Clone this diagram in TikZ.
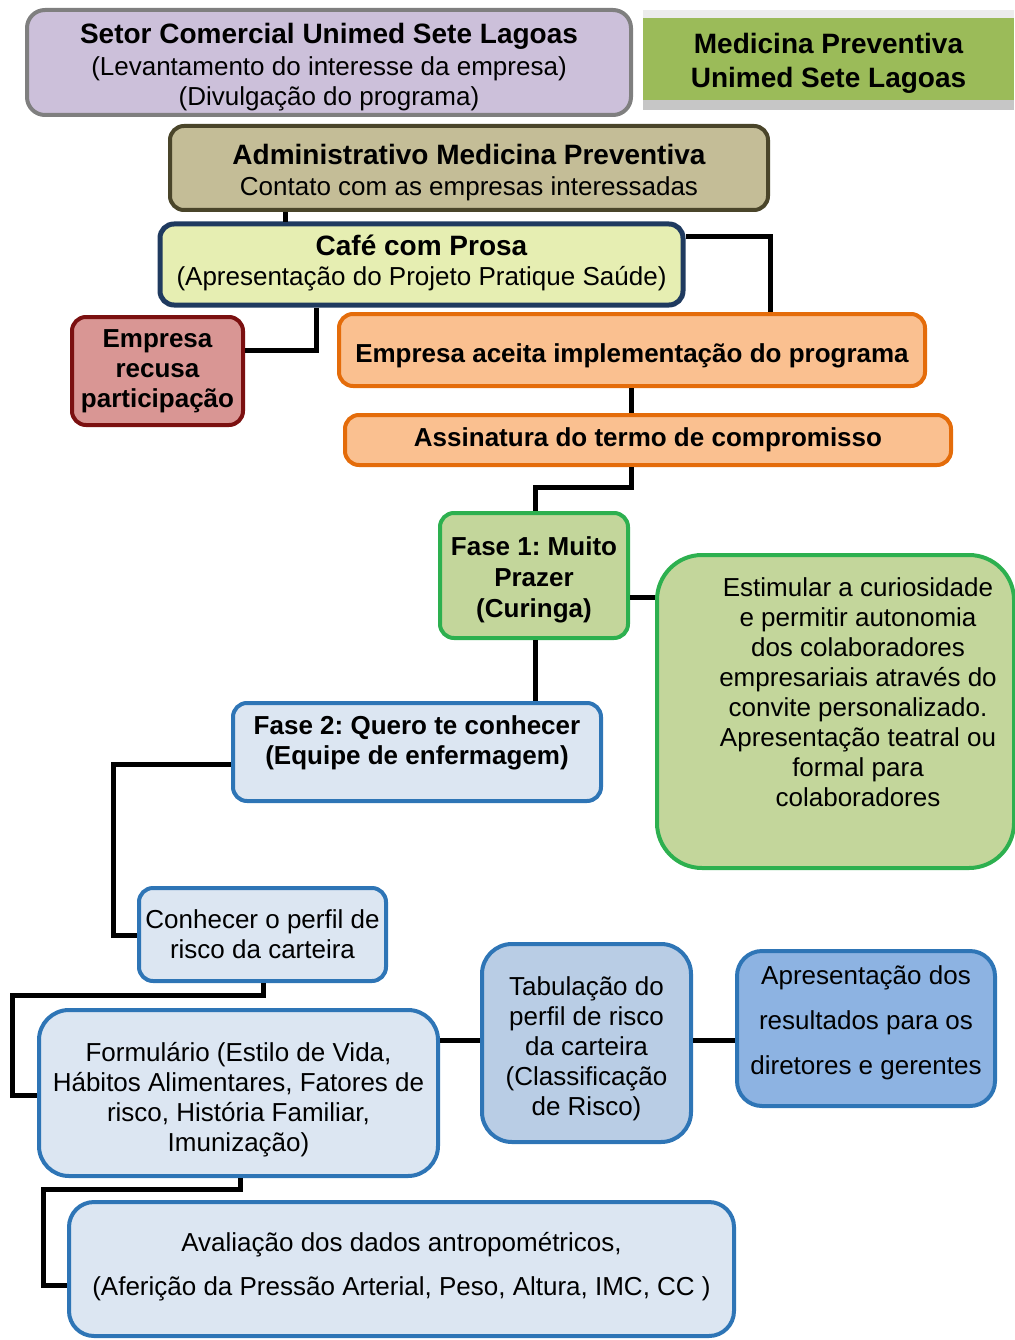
\documentclass[tikz,border=0pt]{standalone}
\usepackage{fontspec}
\setmainfont{Liberation Sans}
\definecolor{lav}{HTML}{CCC0DA}
\definecolor{lavb}{HTML}{7F7F7F}
\definecolor{hdr}{HTML}{9BBB59}
\definecolor{tan}{HTML}{C4BD97}
\definecolor{tanb}{HTML}{4A452A}
\definecolor{cafe}{HTML}{E6EEB2}
\definecolor{cafeb}{HTML}{1F3A5F}
\definecolor{red1}{HTML}{D99694}
\definecolor{red1b}{HTML}{7B1010}
\definecolor{ora}{HTML}{FAC090}
\definecolor{orab}{HTML}{E46C0A}
\definecolor{grn}{HTML}{C3D69B}
\definecolor{grnb}{HTML}{2DB04F}
\definecolor{blu1}{HTML}{DCE6F2}
\definecolor{blu2}{HTML}{B9CDE5}
\definecolor{blu3}{HTML}{8DB3E2}
\definecolor{blub}{HTML}{2E75B6}
\newcommand{\ttl}[1]{{\fontsize{28}{32}\selectfont\bfseries #1}}
\begin{document}
\frenchspacing
\begin{tikzpicture}[x=1pt,y=-1pt,
  box/.style={draw, line width=4pt, rounded corners=14pt, align=center, inner sep=0pt,
    font=\fontsize{26}{30}\selectfont},
  conn/.style={draw=black, line width=5pt},
  txt/.style={align=center, inner sep=0pt, font=\fontsize{26}{30}\selectfont}]
\useasboundingbox (0,0) rectangle (1014,1340);
% header
\fill[gray!15] (643,10) rectangle (1014,18);
\fill[gray!45] (643,100) rectangle (1014,110);
\node[fill=hdr, minimum width=371pt, minimum height=82pt, inner sep=0pt, align=center,
  font=\fontsize{28}{34}\selectfont\bfseries] (hdr) at (828.5,59) {Medicina Preventiva\\Unimed Sete Lagoas\\[-37pt]};
% boxes
\node[box, fill=lav, draw=lavb, rounded corners=18pt, minimum width=604pt, minimum height=105pt] (setor) at (329,62.5)
  {\ttl{Setor Comercial Unimed Sete Lagoas}\\[2pt](Levantamento do interesse da empresa)\\(Divulgação do programa)\\[-33pt]};
\node[box, fill=tan, draw=tanb, minimum width=598pt, minimum height=84pt] (admin) at (469,168)
  {\ttl{Administrativo Medicina Preventiva}\\[1pt]Contato com as empresas interessadas\\[-34pt]};
\node[box, fill=cafe, draw=cafeb, line width=5pt, minimum width=523pt, minimum height=81pt] (cafe) at (421.5,264.5)
  {\ttl{Café com Prosa}\\(Apresentação do Projeto Pratique Saúde)\\[-22pt]};
\node[box, fill=red1, draw=red1b, minimum width=171pt, minimum height=108pt] (recusa) at (157.5,371)
  {\bfseries Empresa\\\bfseries recusa\\\bfseries participação};
\node[box, fill=ora, draw=orab, minimum width=586pt, minimum height=72pt] (aceita) at (632,350)
  {\bfseries Empresa aceita implementação do programa\\[-36pt]};
\node[box, fill=ora, draw=orab, minimum width=606pt, minimum height=50pt] (assin) at (648,440)
  {\bfseries Assinatura do termo de compromisso};
\node[box, fill=grn, draw=grnb, minimum width=188pt, minimum height=125pt,
  font=\fontsize{26}{31}\selectfont] (fase1) at (534,575.5)
  {\bfseries Fase 1: Muito\\\bfseries Prazer\\\bfseries (Curinga)\\[-34pt]};
\node[box, fill=grn, draw=grnb, rounded corners=45pt, minimum width=357pt, minimum height=313pt] (estim) at (835.5,711.5) {};
\node[txt] (estimtxt) at (858,692)
  {Estimular a curiosidade\\e permitir autonomia\\dos colaboradores\\empresariais através do\\convite personalizado.\\Apresentação teatral ou\\formal para\\colaboradores};
\node[box, fill=blu1, draw=blub, minimum width=368pt, minimum height=98pt] (fase2) at (417,752)
  {\bfseries Fase 2: Quero te conhecer\\\bfseries (Equipe de enfermagem)\\[-6pt]};
\node[box, fill=blu1, draw=blub, minimum width=247pt, minimum height=93pt] (conhecer) at (262.5,934.5)
  {Conhecer o perfil de\\risco da carteira};
\node[box, fill=blu1, draw=blub, rounded corners=30pt, minimum width=399pt, minimum height=166pt] (form) at (238.5,1093)
  {Formulário (Estilo de Vida,\\Hábitos Alimentares, Fatores de\\risco, História Familiar,\\Imunização)\\[-37pt]};
\node[box, fill=blu2, draw=blub, rounded corners=30pt, minimum width=209pt, minimum height=198pt] (tab) at (586.5,1043)
  {Tabulação do\\perfil de risco\\da carteira\\(Classificação\\de Risco)\\[-37pt]};
\node[box, fill=blu3, draw=blub, rounded corners=25pt, minimum width=258pt, minimum height=155pt,
  font=\fontsize{26}{45}\selectfont] (apres) at (866,1028.5)
  {Apresentação dos\\resultados para os\\diretores e gerentes\\[-28pt]};
\node[box, fill=blu1, draw=blub, rounded corners=25pt, minimum width=665pt, minimum height=134pt,
  font=\fontsize{26}{44}\selectfont] (aval) at (401.5,1269)
  {Avaliação dos dados antropométricos,\\(Aferição da Pressão Arterial, Peso, Altura, IMC, CC )\\[-34pt]};
% connectors
\coordinate (c1) at (770,237);
\draw[conn] (285,212) -- (285,222);
\draw[conn] (cafe.east |- c1) -- (c1) -- (c1 |- aceita.north);
\coordinate (c2) at (316,350);
\draw[conn] (c2 |- cafe.south) -- (c2) -- (recusa.east |- c2);
\draw[conn] (aceita.south -| 631,0) -- (assin.north -| 631,0);
\coordinate (c3) at (631,487);
\coordinate (c4) at (535,487);
\draw[conn] (c3 |- assin.south) -- (c3) -- (c4) -- (fase1.north -| c4);
\draw[conn] (fase1.east |- 0,597) -- (estim.west |- 0,597);
\draw[conn] (fase1.south -| 535,0) -- (fase2.north -| 535,0);
\coordinate (c5) at (113,764);
\coordinate (c6) at (113,935);
\draw[conn] (fase2.west |- c5) -- (c5) -- (c6) -- (conhecer.west |- c6);
\coordinate (c7) at (263,995);
\coordinate (c8) at (12,995);
\coordinate (c9) at (12,1095);
\draw[conn] (conhecer.south -| c7) -- (c7) -- (c8) -- (c9) -- (form.west |- c9);
\coordinate (c10) at (0,1040);
\draw[conn] (form.east |- c10) -- (tab.west |- c10);
\draw[conn] (tab.east |- c10) -- (apres.west |- c10);
\coordinate (c11) at (240,1189);
\coordinate (c12) at (43,1189);
\coordinate (c13) at (43,1285);
\draw[conn] (form.south -| c11) -- (c11) -- (c12) -- (c13) -- (aval.west |- c13);
\end{tikzpicture}
\end{document}
